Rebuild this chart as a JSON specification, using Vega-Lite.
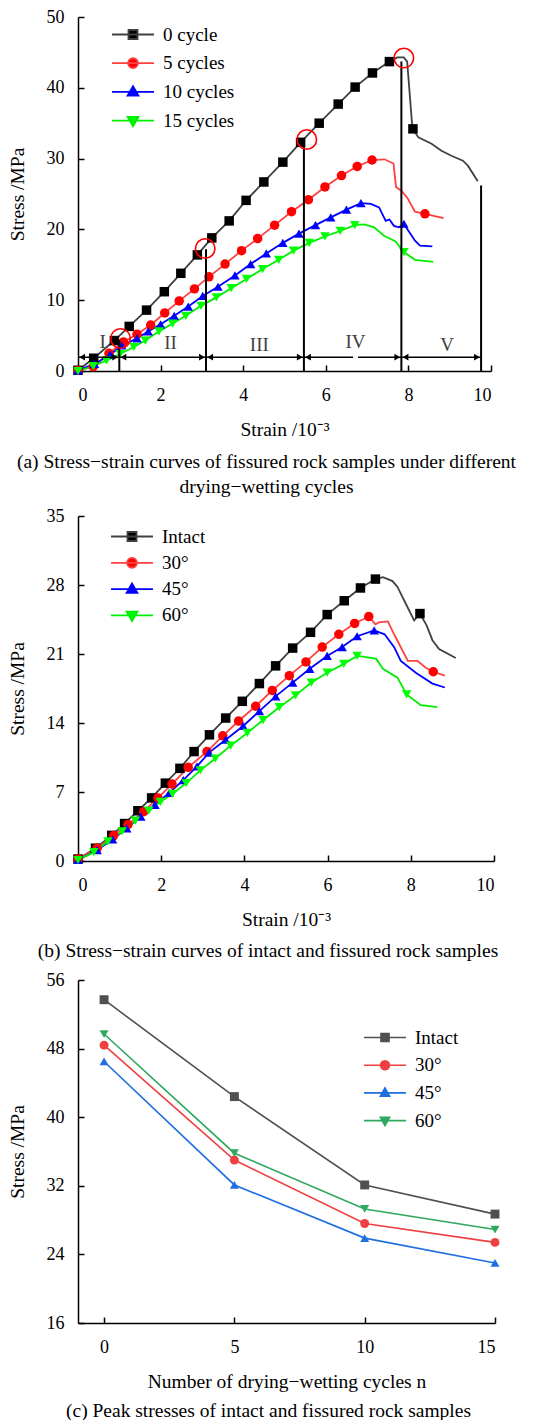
{
  "$schema": "https://vega.github.io/schema/vega-lite/v6.json",
  "padding": {"left": 7, "top": 8, "right": 0, "bottom": 0},
  "spacing": 11,
  "background": "white",
  "resolve": {"scale": {"color": "independent", "shape": "independent", "stroke": "independent"}},
  "config": {
    "view": {"stroke": null},
    "font": "Liberation Serif",
    "axis": {"domainColor": "black", "domainWidth": 1.5, "tickColor": "black", "tickWidth": 1.5, "tickSize": -6, "labelPadding": 20, "labelFontSize": 18, "labelFont": "Liberation Serif", "labelColor": "black", "titleFont": "Liberation Serif", "titleFontSize": 19.5, "titleFontWeight": "normal", "titleColor": "black", "grid": false},
    "axisY": {"titlePadding": 19},
    "axisX": {"titlePadding": 16, "labelPadding": 21},
    "title": {"font": "Liberation Serif", "fontSize": 19.5, "fontWeight": "normal", "color": "black", "anchor": "middle", "lineHeight": 25},
    "legend": {"padding": 0, "labelFont": "Liberation Serif", "labelFontSize": 19, "labelColor": "black"}
  },
  "datasets": {
    "aData": [
      {"s": "0 cycle", "x": 0, "y": 0.1, "m": 1}, {"s": "0 cycle", "x": 0.38, "y": 1.8, "m": 1}, {"s": "0 cycle", "x": 0.88, "y": 4.3, "m": 1}, {"s": "0 cycle", "x": 1.24, "y": 6.3, "m": 1}, {"s": "0 cycle", "x": 1.66, "y": 8.6, "m": 1}, {"s": "0 cycle", "x": 2.09, "y": 11.2, "m": 1}, {"s": "0 cycle", "x": 2.49, "y": 13.8, "m": 1}, {"s": "0 cycle", "x": 2.89, "y": 16.4, "m": 1}, {"s": "0 cycle", "x": 3.24, "y": 18.8, "m": 1}, {"s": "0 cycle", "x": 3.66, "y": 21.2, "m": 1}, {"s": "0 cycle", "x": 4.07, "y": 24.1, "m": 1}, {"s": "0 cycle", "x": 4.5, "y": 26.7, "m": 1}, {"s": "0 cycle", "x": 4.96, "y": 29.5, "m": 1}, {"s": "0 cycle", "x": 5.39, "y": 32.3, "m": 1}, {"s": "0 cycle", "x": 5.84, "y": 35.0, "m": 1}, {"s": "0 cycle", "x": 6.3, "y": 37.7, "m": 1}, {"s": "0 cycle", "x": 6.71, "y": 40.1, "m": 1}, {"s": "0 cycle", "x": 7.13, "y": 42.1, "m": 1}, {"s": "0 cycle", "x": 7.54, "y": 43.7, "m": 1}, {"s": "0 cycle", "x": 8.11, "y": 34.2, "m": 1},
      {"s": "0 cycle", "x": 7.73, "y": 44.3, "m": 0}, {"s": "0 cycle", "x": 7.89, "y": 44.3, "m": 0}, {"s": "0 cycle", "x": 7.97, "y": 43.7, "m": 0}, {"s": "0 cycle", "x": 8.09, "y": 34.8, "m": 0}, {"s": "0 cycle", "x": 8.24, "y": 33.0, "m": 0}, {"s": "0 cycle", "x": 8.56, "y": 32.1, "m": 0}, {"s": "0 cycle", "x": 8.8, "y": 31.1, "m": 0}, {"s": "0 cycle", "x": 9.04, "y": 30.4, "m": 0}, {"s": "0 cycle", "x": 9.32, "y": 29.7, "m": 0}, {"s": "0 cycle", "x": 9.44, "y": 29.0, "m": 0}, {"s": "0 cycle", "x": 9.68, "y": 26.8, "m": 0},
      {"s": "5 cycles", "x": 0, "y": 0.1, "m": 1}, {"s": "5 cycles", "x": 0.37, "y": 0.6, "m": 1}, {"s": "5 cycles", "x": 0.75, "y": 2.5, "m": 1}, {"s": "5 cycles", "x": 1.1, "y": 4.1, "m": 1}, {"s": "5 cycles", "x": 1.43, "y": 5.2, "m": 1}, {"s": "5 cycles", "x": 1.76, "y": 6.5, "m": 1}, {"s": "5 cycles", "x": 2.1, "y": 8.2, "m": 1}, {"s": "5 cycles", "x": 2.45, "y": 9.9, "m": 1}, {"s": "5 cycles", "x": 2.82, "y": 11.6, "m": 1}, {"s": "5 cycles", "x": 3.17, "y": 13.3, "m": 1}, {"s": "5 cycles", "x": 3.56, "y": 15.1, "m": 1}, {"s": "5 cycles", "x": 3.96, "y": 17.0, "m": 1}, {"s": "5 cycles", "x": 4.35, "y": 18.7, "m": 1}, {"s": "5 cycles", "x": 4.76, "y": 20.6, "m": 1}, {"s": "5 cycles", "x": 5.17, "y": 22.5, "m": 1}, {"s": "5 cycles", "x": 5.58, "y": 24.2, "m": 1}, {"s": "5 cycles", "x": 5.98, "y": 26.0, "m": 1}, {"s": "5 cycles", "x": 6.38, "y": 27.6, "m": 1}, {"s": "5 cycles", "x": 6.76, "y": 28.9, "m": 1}, {"s": "5 cycles", "x": 7.12, "y": 29.8, "m": 1}, {"s": "5 cycles", "x": 8.4, "y": 22.2, "m": 1},
      {"s": "5 cycles", "x": 7.42, "y": 29.9, "m": 0}, {"s": "5 cycles", "x": 7.64, "y": 29.3, "m": 0}, {"s": "5 cycles", "x": 7.7, "y": 26.0, "m": 0}, {"s": "5 cycles", "x": 7.84, "y": 25.4, "m": 0}, {"s": "5 cycles", "x": 7.98, "y": 24.4, "m": 0}, {"s": "5 cycles", "x": 8.16, "y": 22.5, "m": 0}, {"s": "5 cycles", "x": 8.85, "y": 21.6, "m": 0},
      {"s": "10 cycles", "x": 0, "y": 0.1, "m": 1}, {"s": "10 cycles", "x": 0.4, "y": 1.0, "m": 1}, {"s": "10 cycles", "x": 0.78, "y": 2.3, "m": 1}, {"s": "10 cycles", "x": 1.06, "y": 3.6, "m": 1}, {"s": "10 cycles", "x": 1.43, "y": 4.6, "m": 1}, {"s": "10 cycles", "x": 1.7, "y": 5.6, "m": 1}, {"s": "10 cycles", "x": 2.0, "y": 6.6, "m": 1}, {"s": "10 cycles", "x": 2.33, "y": 7.8, "m": 1}, {"s": "10 cycles", "x": 2.67, "y": 9.1, "m": 1}, {"s": "10 cycles", "x": 3.02, "y": 10.6, "m": 1}, {"s": "10 cycles", "x": 3.39, "y": 11.9, "m": 1}, {"s": "10 cycles", "x": 3.8, "y": 13.5, "m": 1}, {"s": "10 cycles", "x": 4.18, "y": 15.1, "m": 1}, {"s": "10 cycles", "x": 4.56, "y": 16.6, "m": 1}, {"s": "10 cycles", "x": 4.96, "y": 18.1, "m": 1}, {"s": "10 cycles", "x": 5.35, "y": 19.4, "m": 1}, {"s": "10 cycles", "x": 5.75, "y": 20.6, "m": 1}, {"s": "10 cycles", "x": 6.12, "y": 21.7, "m": 1}, {"s": "10 cycles", "x": 6.5, "y": 22.8, "m": 1}, {"s": "10 cycles", "x": 6.85, "y": 23.7, "m": 1}, {"s": "10 cycles", "x": 7.89, "y": 20.8, "m": 1},
      {"s": "10 cycles", "x": 7.09, "y": 23.6, "m": 0}, {"s": "10 cycles", "x": 7.29, "y": 23.1, "m": 0}, {"s": "10 cycles", "x": 7.45, "y": 21.2, "m": 0}, {"s": "10 cycles", "x": 7.54, "y": 21.4, "m": 0}, {"s": "10 cycles", "x": 7.65, "y": 20.5, "m": 0}, {"s": "10 cycles", "x": 7.77, "y": 20.3, "m": 0}, {"s": "10 cycles", "x": 8.0, "y": 19.8, "m": 0}, {"s": "10 cycles", "x": 8.16, "y": 18.4, "m": 0}, {"s": "10 cycles", "x": 8.28, "y": 17.7, "m": 0}, {"s": "10 cycles", "x": 8.58, "y": 17.6, "m": 0},
      {"s": "15 cycles", "x": 0, "y": 0, "m": 1}, {"s": "15 cycles", "x": 0.37, "y": 0.7, "m": 1}, {"s": "15 cycles", "x": 0.69, "y": 1.5, "m": 1}, {"s": "15 cycles", "x": 1.02, "y": 2.4, "m": 1}, {"s": "15 cycles", "x": 1.35, "y": 3.4, "m": 1}, {"s": "15 cycles", "x": 1.63, "y": 4.3, "m": 1}, {"s": "15 cycles", "x": 1.96, "y": 5.6, "m": 1}, {"s": "15 cycles", "x": 2.29, "y": 6.7, "m": 1}, {"s": "15 cycles", "x": 2.61, "y": 7.8, "m": 1}, {"s": "15 cycles", "x": 2.98, "y": 9.2, "m": 1}, {"s": "15 cycles", "x": 3.35, "y": 10.4, "m": 1}, {"s": "15 cycles", "x": 3.71, "y": 11.7, "m": 1}, {"s": "15 cycles", "x": 4.08, "y": 13.0, "m": 1}, {"s": "15 cycles", "x": 4.47, "y": 14.4, "m": 1}, {"s": "15 cycles", "x": 4.86, "y": 15.7, "m": 1}, {"s": "15 cycles", "x": 5.22, "y": 17.0, "m": 1}, {"s": "15 cycles", "x": 5.6, "y": 18.1, "m": 1}, {"s": "15 cycles", "x": 5.98, "y": 19.0, "m": 1}, {"s": "15 cycles", "x": 6.35, "y": 19.8, "m": 1}, {"s": "15 cycles", "x": 6.7, "y": 20.6, "m": 1}, {"s": "15 cycles", "x": 7.89, "y": 16.8, "m": 1},
      {"s": "15 cycles", "x": 6.93, "y": 20.7, "m": 0}, {"s": "15 cycles", "x": 7.17, "y": 20.3, "m": 0}, {"s": "15 cycles", "x": 7.41, "y": 19.1, "m": 0}, {"s": "15 cycles", "x": 7.69, "y": 18.3, "m": 0}, {"s": "15 cycles", "x": 8.16, "y": 15.7, "m": 0}, {"s": "15 cycles", "x": 8.6, "y": 15.4, "m": 0}
    ],
    "aV": [
      {"x": 1.0, "y": 0, "y2": 4.4}, {"x": 3.1, "y": 0, "y2": 17.2}, {"x": 5.47, "y": 0, "y2": 32.0}, {"x": 7.83, "y": 0, "y2": 43.7}, {"x": 9.76, "y": 0, "y2": 26.2}
    ],
    "aH": [
      {"x": 0, "x2": 1.0, "y": 1.95}, {"x": 1.0, "x2": 3.1, "y": 1.95}, {"x": 3.1, "x2": 5.47, "y": 1.95}, {"x": 5.47, "x2": 6.66, "y": 1.95}, {"x": 6.78, "x2": 7.83, "y": 1.95}, {"x": 7.83, "x2": 9.76, "y": 1.95}
    ],
    "aArrow": [
      {"x": 0.1, "y": 1.95, "d": "L"}, {"x": 0.9, "y": 1.95, "d": "R"}, {"x": 1.1, "y": 1.95, "d": "L"}, {"x": 3.0, "y": 1.95, "d": "R"}, {"x": 3.2, "y": 1.95, "d": "L"}, {"x": 5.37, "y": 1.95, "d": "R"}, {"x": 5.57, "y": 1.95, "d": "L"}, {"x": 7.73, "y": 1.95, "d": "R"}, {"x": 7.93, "y": 1.95, "d": "L"}, {"x": 9.66, "y": 1.95, "d": "R"}
    ],
    "aText": [
      {"x": 0.6, "y": 4.1, "t": "I"}, {"x": 2.24, "y": 3.9, "t": "II"}, {"x": 4.39, "y": 3.7, "t": "III"}, {"x": 6.72, "y": 4.1, "t": "IV"}, {"x": 8.94, "y": 3.7, "t": "V"}
    ],
    "aCirc": [
      {"x": 1.03, "y": 4.6}, {"x": 3.08, "y": 17.3}, {"x": 5.54, "y": 32.7}, {"x": 7.89, "y": 44.2}
    ],
    "bData": [
      {"s": "Intact", "x": 0, "y": 0.2, "m": 1}, {"s": "Intact", "x": 0.42, "y": 1.3, "m": 1}, {"s": "Intact", "x": 0.81, "y": 2.6, "m": 1}, {"s": "Intact", "x": 1.12, "y": 3.8, "m": 1}, {"s": "Intact", "x": 1.44, "y": 5.1, "m": 1}, {"s": "Intact", "x": 1.77, "y": 6.4, "m": 1}, {"s": "Intact", "x": 2.1, "y": 7.9, "m": 1}, {"s": "Intact", "x": 2.45, "y": 9.4, "m": 1}, {"s": "Intact", "x": 2.79, "y": 11.1, "m": 1}, {"s": "Intact", "x": 3.16, "y": 12.8, "m": 1}, {"s": "Intact", "x": 3.55, "y": 14.5, "m": 1}, {"s": "Intact", "x": 3.95, "y": 16.2, "m": 1}, {"s": "Intact", "x": 4.36, "y": 18.0, "m": 1}, {"s": "Intact", "x": 4.75, "y": 19.8, "m": 1}, {"s": "Intact", "x": 5.16, "y": 21.6, "m": 1}, {"s": "Intact", "x": 5.59, "y": 23.2, "m": 1}, {"s": "Intact", "x": 5.99, "y": 25.0, "m": 1}, {"s": "Intact", "x": 6.4, "y": 26.4, "m": 1}, {"s": "Intact", "x": 6.79, "y": 27.7, "m": 1}, {"s": "Intact", "x": 7.15, "y": 28.6, "m": 1}, {"s": "Intact", "x": 8.22, "y": 25.1, "m": 1},
      {"s": "Intact", "x": 7.33, "y": 28.8, "m": 0}, {"s": "Intact", "x": 7.56, "y": 28.4, "m": 0}, {"s": "Intact", "x": 7.68, "y": 27.8, "m": 0}, {"s": "Intact", "x": 7.88, "y": 26.1, "m": 0}, {"s": "Intact", "x": 8.08, "y": 24.4, "m": 0}, {"s": "Intact", "x": 8.38, "y": 23.9, "m": 0}, {"s": "Intact", "x": 8.52, "y": 22.4, "m": 0}, {"s": "Intact", "x": 8.68, "y": 21.5, "m": 0}, {"s": "Intact", "x": 9.08, "y": 20.6, "m": 0},
      {"s": "30°", "x": 0, "y": 0.2, "m": 1}, {"s": "30°", "x": 0.46, "y": 1.3, "m": 1}, {"s": "30°", "x": 0.86, "y": 2.6, "m": 1}, {"s": "30°", "x": 1.2, "y": 3.7, "m": 1}, {"s": "30°", "x": 1.58, "y": 5.0, "m": 1}, {"s": "30°", "x": 1.92, "y": 6.4, "m": 1}, {"s": "30°", "x": 2.26, "y": 7.8, "m": 1}, {"s": "30°", "x": 2.65, "y": 9.5, "m": 1}, {"s": "30°", "x": 3.1, "y": 11.1, "m": 1}, {"s": "30°", "x": 3.48, "y": 12.7, "m": 1}, {"s": "30°", "x": 3.86, "y": 14.2, "m": 1}, {"s": "30°", "x": 4.27, "y": 15.7, "m": 1}, {"s": "30°", "x": 4.67, "y": 17.3, "m": 1}, {"s": "30°", "x": 5.08, "y": 18.8, "m": 1}, {"s": "30°", "x": 5.48, "y": 20.2, "m": 1}, {"s": "30°", "x": 5.87, "y": 21.7, "m": 1}, {"s": "30°", "x": 6.27, "y": 23.0, "m": 1}, {"s": "30°", "x": 6.65, "y": 24.1, "m": 1}, {"s": "30°", "x": 6.99, "y": 24.8, "m": 1}, {"s": "30°", "x": 8.54, "y": 19.2, "m": 1},
      {"s": "30°", "x": 7.15, "y": 24.0, "m": 0}, {"s": "30°", "x": 7.23, "y": 24.2, "m": 0}, {"s": "30°", "x": 7.45, "y": 24.3, "m": 0}, {"s": "30°", "x": 7.61, "y": 22.9, "m": 0}, {"s": "30°", "x": 7.93, "y": 20.3, "m": 0}, {"s": "30°", "x": 8.16, "y": 20.3, "m": 0}, {"s": "30°", "x": 8.36, "y": 19.6, "m": 0}, {"s": "30°", "x": 8.82, "y": 18.8, "m": 0},
      {"s": "45°", "x": 0, "y": 0.1, "m": 1}, {"s": "45°", "x": 0.46, "y": 1.1, "m": 1}, {"s": "45°", "x": 0.83, "y": 2.2, "m": 1}, {"s": "45°", "x": 1.17, "y": 3.3, "m": 1}, {"s": "45°", "x": 1.51, "y": 4.5, "m": 1}, {"s": "45°", "x": 1.85, "y": 5.7, "m": 1}, {"s": "45°", "x": 2.19, "y": 6.9, "m": 1}, {"s": "45°", "x": 2.53, "y": 8.2, "m": 1}, {"s": "45°", "x": 2.86, "y": 9.6, "m": 1}, {"s": "45°", "x": 3.15, "y": 11.0, "m": 1}, {"s": "45°", "x": 3.55, "y": 12.3, "m": 1}, {"s": "45°", "x": 3.97, "y": 13.7, "m": 1}, {"s": "45°", "x": 4.36, "y": 15.2, "m": 1}, {"s": "45°", "x": 4.75, "y": 16.7, "m": 1}, {"s": "45°", "x": 5.16, "y": 18.1, "m": 1}, {"s": "45°", "x": 5.57, "y": 19.5, "m": 1}, {"s": "45°", "x": 5.99, "y": 20.8, "m": 1}, {"s": "45°", "x": 6.35, "y": 21.7, "m": 1}, {"s": "45°", "x": 6.71, "y": 22.8, "m": 1}, {"s": "45°", "x": 7.12, "y": 23.4, "m": 1},
      {"s": "45°", "x": 7.37, "y": 23.0, "m": 0}, {"s": "45°", "x": 7.6, "y": 21.7, "m": 0}, {"s": "45°", "x": 7.76, "y": 20.3, "m": 0}, {"s": "45°", "x": 8.12, "y": 19.1, "m": 0}, {"s": "45°", "x": 8.52, "y": 18.0, "m": 0}, {"s": "45°", "x": 8.82, "y": 17.6, "m": 0},
      {"s": "60°", "x": 0, "y": 0.1, "m": 1}, {"s": "60°", "x": 0.38, "y": 0.9, "m": 1}, {"s": "60°", "x": 0.72, "y": 2.0, "m": 1}, {"s": "60°", "x": 1.06, "y": 3.0, "m": 1}, {"s": "60°", "x": 1.38, "y": 4.1, "m": 1}, {"s": "60°", "x": 1.7, "y": 5.1, "m": 1}, {"s": "60°", "x": 1.98, "y": 6.0, "m": 1}, {"s": "60°", "x": 2.27, "y": 6.8, "m": 1}, {"s": "60°", "x": 2.6, "y": 7.9, "m": 1}, {"s": "60°", "x": 2.94, "y": 9.2, "m": 1}, {"s": "60°", "x": 3.3, "y": 10.4, "m": 1}, {"s": "60°", "x": 3.67, "y": 11.7, "m": 1}, {"s": "60°", "x": 4.07, "y": 13.0, "m": 1}, {"s": "60°", "x": 4.45, "y": 14.3, "m": 1}, {"s": "60°", "x": 4.84, "y": 15.6, "m": 1}, {"s": "60°", "x": 5.23, "y": 16.8, "m": 1}, {"s": "60°", "x": 5.61, "y": 18.1, "m": 1}, {"s": "60°", "x": 5.99, "y": 19.1, "m": 1}, {"s": "60°", "x": 6.39, "y": 20.0, "m": 1}, {"s": "60°", "x": 6.71, "y": 20.8, "m": 1}, {"s": "60°", "x": 7.9, "y": 16.9, "m": 1},
      {"s": "60°", "x": 6.89, "y": 20.7, "m": 0}, {"s": "60°", "x": 7.17, "y": 20.5, "m": 0}, {"s": "60°", "x": 7.33, "y": 19.5, "m": 0}, {"s": "60°", "x": 7.68, "y": 18.6, "m": 0}, {"s": "60°", "x": 8.24, "y": 15.8, "m": 0}, {"s": "60°", "x": 8.64, "y": 15.6, "m": 0}
    ],
    "cData": [
      {"s": "Intact", "n": 0, "y": 53.7}, {"s": "Intact", "n": 5, "y": 42.4}, {"s": "Intact", "n": 10, "y": 32.1}, {"s": "Intact", "n": 15, "y": 28.7},
      {"s": "30°", "n": 0, "y": 48.4}, {"s": "30°", "n": 5, "y": 35.0}, {"s": "30°", "n": 10, "y": 27.6}, {"s": "30°", "n": 15, "y": 25.4},
      {"s": "45°", "n": 0, "y": 46.5}, {"s": "45°", "n": 5, "y": 32.1}, {"s": "45°", "n": 10, "y": 25.9}, {"s": "45°", "n": 15, "y": 23.0},
      {"s": "60°", "n": 0, "y": 49.7}, {"s": "60°", "n": 5, "y": 35.8}, {"s": "60°", "n": 10, "y": 29.3}, {"s": "60°", "n": 15, "y": 26.9}
    ]
  },
  "vconcat": [
    {
      "width": 413, "height": 354,
      "title": {"text": ["(a) Stress−strain curves of fissured rock samples under different", "drying−wetting cycles"], "orient": "bottom", "offset": 14, "dx": -18},
      "resolve": {"scale": {"color": "independent", "shape": "independent", "stroke": "independent"}},
      "layer": [
        {"data": {"name": "aData"}, "mark": {"type": "line", "strokeWidth": 1.8},
         "encoding": {
           "x": {"field": "x", "type": "quantitative", "scale": {"domain": [0, 10], "nice": false}, "axis": {"values": [0, 2, 4, 6, 8, 10], "title": "Strain /10⁻³"}},
           "y": {"field": "y", "type": "quantitative", "scale": {"domain": [0, 50], "nice": false}, "axis": {"values": [0, 10, 20, 30, 40, 50], "title": "Stress /MPa"}},
           "color": {"field": "s", "type": "nominal", "scale": {"domain": ["0 cycle", "5 cycles", "10 cycles", "15 cycles"], "range": ["#404040", "#FF4040", "#0000FF", "#00EE00"]}, "legend": null}}},
        {"data": {"name": "aData"}, "transform": [{"filter": {"field": "m", "equal": 1}}], "mark": {"type": "point", "filled": true, "opacity": 1, "size": 90},
         "encoding": {
           "x": {"field": "x", "type": "quantitative", "scale": {"domain": [0, 10], "nice": false}},
           "y": {"field": "y", "type": "quantitative", "scale": {"domain": [0, 50], "nice": false}},
           "color": {"field": "s", "type": "nominal", "scale": {"domain": ["0 cycle", "5 cycles", "10 cycles", "15 cycles"], "range": ["#000000", "#FF0000", "#0000FF", "#00FF00"]}, "legend": null},
           "shape": {"field": "s", "type": "nominal", "scale": {"domain": ["0 cycle", "5 cycles", "10 cycles", "15 cycles"], "range": ["square", "circle", "triangle-up", "triangle-down"]}, "legend": null}}},
        {"data": {"name": "aV"}, "mark": {"type": "rule", "color": "black", "strokeWidth": 2},
         "encoding": {"x": {"field": "x", "type": "quantitative", "scale": {"domain": [0, 10], "nice": false}}, "y": {"field": "y", "type": "quantitative", "scale": {"domain": [0, 50], "nice": false}}, "y2": {"field": "y2"}}},
        {"data": {"name": "aH"}, "mark": {"type": "rule", "color": "black", "strokeWidth": 1.5},
         "encoding": {"x": {"field": "x", "type": "quantitative", "scale": {"domain": [0, 10], "nice": false}}, "x2": {"field": "x2"}, "y": {"field": "y", "type": "quantitative", "scale": {"domain": [0, 50], "nice": false}}}},
        {"data": {"name": "aArrow"}, "mark": {"type": "point", "filled": true, "opacity": 1, "color": "black", "size": 45},
         "encoding": {"x": {"field": "x", "type": "quantitative", "scale": {"domain": [0, 10], "nice": false}}, "y": {"field": "y", "type": "quantitative", "scale": {"domain": [0, 50], "nice": false}},
           "shape": {"field": "d", "type": "nominal", "scale": {"domain": ["L", "R"], "range": ["triangle-left", "triangle-right"]}, "legend": null}}},
        {"data": {"name": "aText"}, "mark": {"type": "text", "fontSize": 19, "color": "#404040", "font": "Liberation Serif"},
         "encoding": {"x": {"field": "x", "type": "quantitative", "scale": {"domain": [0, 10], "nice": false}}, "y": {"field": "y", "type": "quantitative", "scale": {"domain": [0, 50], "nice": false}}, "text": {"field": "t"}}},
        {"data": {"name": "aCirc"}, "mark": {"type": "point", "shape": "circle", "filled": false, "color": "#FF0000", "strokeWidth": 1.6, "size": 380, "opacity": 1},
         "encoding": {"x": {"field": "x", "type": "quantitative", "scale": {"domain": [0, 10], "nice": false}}, "y": {"field": "y", "type": "quantitative", "scale": {"domain": [0, 50], "nice": false}}}},
        {"data": {"name": "aData"}, "transform": [{"filter": "false"}], "mark": {"type": "point", "filled": true, "opacity": 1, "size": 324, "strokeWidth": 1.8},
         "encoding": {
           "color": {"field": "s", "type": "nominal", "scale": {"domain": ["0 cycle", "5 cycles", "10 cycles", "15 cycles"], "range": ["#000000", "#FF0000", "#0000FF", "#00FF00"]},
             "legend": {"orient": "none", "legendX": 45, "legendY": 7.5, "title": null, "symbolSize": 324, "symbolStrokeWidth": 1.8, "labelOffset": 20, "rowPadding": 8.7, "labelFont": "Liberation Serif", "labelFontSize": 19}},
           "stroke": {"field": "s", "type": "nominal", "scale": {"domain": ["0 cycle", "5 cycles", "10 cycles", "15 cycles"], "range": ["#404040", "#FF4040", "#0000FF", "#00EE00"]},
             "legend": {"orient": "none", "legendX": 45, "legendY": 7.5, "title": null, "symbolSize": 324, "symbolStrokeWidth": 1.8, "labelOffset": 20, "rowPadding": 8.7, "labelFont": "Liberation Serif", "labelFontSize": 19}},
           "shape": {"field": "s", "type": "nominal", "scale": {"domain": ["0 cycle", "5 cycles", "10 cycles", "15 cycles"], "range": ["M-2.33,0H2.33M-0.5,-0.5H0.5V0.5H-0.5Z", "M-2.33,0H2.33M0.55,0A0.55,0.55,0,1,1,-0.55,0A0.55,0.55,0,1,1,0.55,0Z", "M-2.33,0H2.33M0,-0.62L0.6,0.42L-0.6,0.42Z", "M-2.33,0H2.33M0,0.62L0.6,-0.42L-0.6,-0.42Z"]},
             "legend": {"orient": "none", "legendX": 45, "legendY": 7.5, "title": null, "symbolSize": 324, "symbolStrokeWidth": 1.8, "labelOffset": 20, "rowPadding": 8.7, "labelFont": "Liberation Serif", "labelFontSize": 19}}}}
      ]
    },
    {
      "width": 416, "height": 345,
      "title": {"text": "(b) Stress−strain curves of intact and fissured rock samples", "orient": "bottom", "offset": 13, "dx": -18},
      "resolve": {"scale": {"color": "independent", "shape": "independent", "stroke": "independent"}},
      "layer": [
        {"data": {"name": "bData"}, "mark": {"type": "line", "strokeWidth": 1.8},
         "encoding": {
           "x": {"field": "x", "type": "quantitative", "scale": {"domain": [0, 10], "nice": false}, "axis": {"values": [0, 2, 4, 6, 8, 10], "title": "Strain /10⁻³"}},
           "y": {"field": "y", "type": "quantitative", "scale": {"domain": [0, 35], "nice": false}, "axis": {"values": [0, 7, 14, 21, 28, 35], "title": "Stress /MPa"}},
           "color": {"field": "s", "type": "nominal", "scale": {"domain": ["Intact", "30°", "45°", "60°"], "range": ["#404040", "#FF4040", "#0000FF", "#00EE00"]}, "legend": null}}},
        {"data": {"name": "bData"}, "transform": [{"filter": {"field": "m", "equal": 1}}], "mark": {"type": "point", "filled": true, "opacity": 1, "size": 90},
         "encoding": {
           "x": {"field": "x", "type": "quantitative", "scale": {"domain": [0, 10], "nice": false}},
           "y": {"field": "y", "type": "quantitative", "scale": {"domain": [0, 35], "nice": false}},
           "color": {"field": "s", "type": "nominal", "scale": {"domain": ["Intact", "30°", "45°", "60°"], "range": ["#000000", "#FF0000", "#0000FF", "#00FF00"]}, "legend": null},
           "shape": {"field": "s", "type": "nominal", "scale": {"domain": ["Intact", "30°", "45°", "60°"], "range": ["square", "circle", "triangle-up", "triangle-down"]}, "legend": null}}},
        {"data": {"name": "bData"}, "transform": [{"filter": "false"}], "mark": {"type": "point", "filled": true, "opacity": 1, "size": 324, "strokeWidth": 1.8},
         "encoding": {
           "color": {"field": "s", "type": "nominal", "scale": {"domain": ["Intact", "30°", "45°", "60°"], "range": ["#000000", "#FF0000", "#0000FF", "#00FF00"]},
             "legend": {"orient": "none", "legendX": 44, "legendY": 10.5, "title": null, "symbolSize": 324, "symbolStrokeWidth": 1.8, "labelOffset": 20, "rowPadding": 6.3, "labelFont": "Liberation Serif", "labelFontSize": 19}},
           "stroke": {"field": "s", "type": "nominal", "scale": {"domain": ["Intact", "30°", "45°", "60°"], "range": ["#404040", "#FF4040", "#0000FF", "#00EE00"]},
             "legend": {"orient": "none", "legendX": 44, "legendY": 10.5, "title": null, "symbolSize": 324, "symbolStrokeWidth": 1.8, "labelOffset": 20, "rowPadding": 6.3, "labelFont": "Liberation Serif", "labelFontSize": 19}},
           "shape": {"field": "s", "type": "nominal", "scale": {"domain": ["Intact", "30°", "45°", "60°"], "range": ["M-2.33,0H2.33M-0.5,-0.5H0.5V0.5H-0.5Z", "M-2.33,0H2.33M0.55,0A0.55,0.55,0,1,1,-0.55,0A0.55,0.55,0,1,1,0.55,0Z", "M-2.33,0H2.33M0,-0.62L0.6,0.42L-0.6,0.42Z", "M-2.33,0H2.33M0,0.62L0.6,-0.42L-0.6,-0.42Z"]},
             "legend": {"orient": "none", "legendX": 44, "legendY": 10.5, "title": null, "symbolSize": 324, "symbolStrokeWidth": 1.8, "labelOffset": 20, "rowPadding": 6.3, "labelFont": "Liberation Serif", "labelFontSize": 19}}}}
      ]
    },
    {
      "width": 417, "height": 343,
      "title": {"text": "(c) Peak stresses of intact and fissured rock samples", "orient": "bottom", "offset": 11, "dx": -18},
      "resolve": {"scale": {"color": "independent", "shape": "independent", "stroke": "independent"}},
      "layer": [
        {"data": {"name": "cData"}, "mark": {"type": "line", "strokeWidth": 1.6},
         "encoding": {
           "x": {"field": "n", "type": "quantitative", "scale": {"domain": [-1, 15], "nice": false}, "axis": {"values": [0, 5, 10, 15], "title": "Number of drying−wetting cycles n"}},
           "y": {"field": "y", "type": "quantitative", "scale": {"domain": [16, 56], "nice": false}, "axis": {"values": [16, 24, 32, 40, 48, 56], "title": "Stress /MPa"}},
           "color": {"field": "s", "type": "nominal", "scale": {"domain": ["Intact", "30°", "45°", "60°"], "range": ["#505050", "#EE4040", "#1F6FE0", "#2FA860"]}, "legend": null}}},
        {"data": {"name": "cData"}, "mark": {"type": "point", "filled": true, "opacity": 1, "size": 80},
         "encoding": {
           "x": {"field": "n", "type": "quantitative", "scale": {"domain": [-1, 15], "nice": false}},
           "y": {"field": "y", "type": "quantitative", "scale": {"domain": [16, 56], "nice": false}},
           "color": {"field": "s", "type": "nominal", "scale": {"domain": ["Intact", "30°", "45°", "60°"], "range": ["#505050", "#EE4040", "#1F6FE0", "#2FA860"]}, "legend": null},
           "shape": {"field": "s", "type": "nominal", "scale": {"domain": ["Intact", "30°", "45°", "60°"], "range": ["square", "circle", "triangle-up", "triangle-down"]}, "legend": null}}},
        {"data": {"name": "cData"}, "transform": [{"filter": "false"}], "mark": {"type": "point", "filled": true, "opacity": 1, "size": 324, "strokeWidth": 1.6},
         "encoding": {
           "color": {"field": "s", "type": "nominal", "scale": {"domain": ["Intact", "30°", "45°", "60°"], "range": ["#505050", "#EE4040", "#1F6FE0", "#2FA860"]},
             "legend": {"orient": "none", "legendX": 297, "legendY": 47.5, "title": null, "symbolSize": 324, "symbolStrokeWidth": 1.6, "labelOffset": 20, "rowPadding": 7.7, "labelFont": "Liberation Serif", "labelFontSize": 19}},
           "stroke": {"field": "s", "type": "nominal", "scale": {"domain": ["Intact", "30°", "45°", "60°"], "range": ["#505050", "#EE4040", "#1F6FE0", "#2FA860"]},
             "legend": {"orient": "none", "legendX": 297, "legendY": 47.5, "title": null, "symbolSize": 324, "symbolStrokeWidth": 1.6, "labelOffset": 20, "rowPadding": 7.7, "labelFont": "Liberation Serif", "labelFontSize": 19}},
           "shape": {"field": "s", "type": "nominal", "scale": {"domain": ["Intact", "30°", "45°", "60°"], "range": ["M-2.33,0H2.33M-0.45,-0.45H0.45V0.45H-0.45Z", "M-2.33,0H2.33M0.5,0A0.5,0.5,0,1,1,-0.5,0A0.5,0.5,0,1,1,0.5,0Z", "M-2.33,0H2.33M0,-0.55L0.52,0.38L-0.52,0.38Z", "M-2.33,0H2.33M0,0.55L0.52,-0.38L-0.52,-0.38Z"]},
             "legend": {"orient": "none", "legendX": 297, "legendY": 47.5, "title": null, "symbolSize": 324, "symbolStrokeWidth": 1.6, "labelOffset": 20, "rowPadding": 7.7, "labelFont": "Liberation Serif", "labelFontSize": 19}}}}
      ]
    }
  ]
}
